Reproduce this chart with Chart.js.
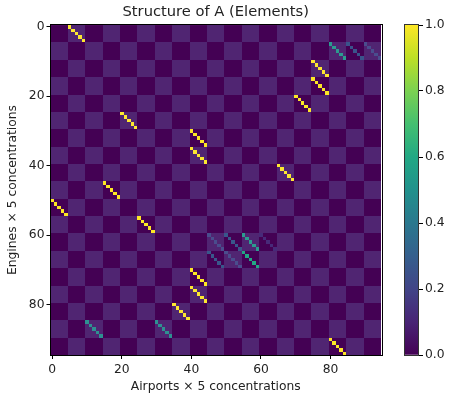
<!DOCTYPE html>
<html>
<head>
<meta charset="utf-8">
<script src="https://cdn.jsdelivr.net/npm/chart.js@4/dist/chart.umd.min.js"></script>
<style>
  html, body { margin: 0; padding: 0; background: #fff; }
  #wrap { position: relative; width: 449px; height: 393px; }
  #main { position: absolute; left: 0; top: 0; }
  #cbar { position: absolute; left: 404px; top: 0; }
</style>
</head>
<body>
<div id="wrap">
  <canvas id="main" width="449" height="393"></canvas>
  <canvas id="cbar" width="45" height="393"></canvas>
</div>
<script>
// matrix is 19 engines x 19 airports, each a 5x5 block of concentrations
const N = 95;
const BLOCK = 5;

// non-zero blocks: each one is a diagonal inside its 5x5 block
const engineBlock  = [0, 1, 1, 1, 2, 3, 4, 5, 6, 7, 8, 9, 10, 11, 12, 12, 12, 12, 13, 13, 13, 14, 15, 16, 17, 17, 18];
const airportBlock = [1, 16, 17, 18, 15, 15, 14, 4, 8, 8, 13, 3, 0, 5, 9, 10, 11, 12, 9, 10, 11, 8, 8, 7, 2, 6, 16];
const blockValue   = [1, 0.52, 0.26, 0.2, 1, 1, 1, 1, 1, 1, 1, 1, 1, 1, 0.2, 0.27, 0.52, 0.12, 0.27, 0.2, 0.6, 1, 1, 1, 0.48, 0.48, 1];
// background value of the lighter blocks in the checkerboard
const checkerValue = 0.07;

const axisTicks = [0, 20, 40, 60, 80];
const colorbarTicks = [0, 0.2, 0.4, 0.6, 0.8, 1.0];

// viridis sampled every 0.1
const VIRIDIS = ['#440154', '#482475', '#414487', '#355f8d', '#2a788e', '#21918c',
                 '#22a884', '#44bf70', '#7ad151', '#bddf26', '#fde725'];

function hexToRgb(h) {
  return [parseInt(h.slice(1, 3), 16), parseInt(h.slice(3, 5), 16), parseInt(h.slice(5, 7), 16)];
}

function viridis(v) {
  const t = Math.max(0, Math.min(1, v)) * (VIRIDIS.length - 1);
  const i = Math.min(Math.floor(t), VIRIDIS.length - 2);
  const f = t - i;
  const a = hexToRgb(VIRIDIS[i]), b = hexToRgb(VIRIDIS[i + 1]);
  const c = a.map((ai, k) => Math.round(ai + (b[k] - ai) * f));
  return `rgb(${c[0]},${c[1]},${c[2]})`;
}

const FONT = 'DejaVu Sans';

const heatmap = {
  id: 'heatmap',
  beforeDatasetsDraw(chart) {
    const { ctx, chartArea: area, scales: { x, y } } = chart;
    const px = v => Math.round(x.getPixelForValue(v));
    const py = v => Math.round(y.getPixelForValue(v));
    const nb = N / BLOCK;
    const blockRect = (i, j) => {
      const x0 = px(j * BLOCK - 0.5), x1 = px((j + 1) * BLOCK - 0.5);
      const y0 = py(i * BLOCK - 0.5), y1 = py((i + 1) * BLOCK - 0.5);
      return [x0, y0, x1 - x0, y1 - y0];
    };
    ctx.save();
    ctx.beginPath();
    ctx.rect(area.left, area.top, area.width, area.height);
    ctx.clip();

    ctx.fillStyle = viridis(0);
    ctx.fillRect(area.left, area.top, area.width, area.height);
    ctx.fillStyle = viridis(checkerValue);
    for (let i = 0; i < nb; i++) {
      for (let j = 0; j < nb; j++) {
        if ((i + j) % 2 === 1) ctx.fillRect(...blockRect(i, j));
      }
    }

    engineBlock.forEach((r, n) => {
      const c = airportBlock[n];
      ctx.fillStyle = viridis(blockValue[n]);
      for (let k = 0; k < BLOCK; k++) {
        const row = r * BLOCK + k, col = c * BLOCK + k;
        const x0 = px(col - 0.5), x1 = px(col + 0.5);
        const y0 = py(row - 0.5), y1 = py(row + 0.5);
        ctx.fillRect(x0, y0, x1 - x0, y1 - y0);
      }
    });

    // light wash over the odd blocks
    ctx.fillStyle = 'rgba(255,255,255,0.05)';
    for (let i = 0; i < nb; i++) {
      for (let j = 0; j < nb; j++) {
        if ((i + j) % 2 === 1) ctx.fillRect(...blockRect(i, j));
      }
    }
    ctx.restore();
  },
  afterDraw(chart) {
    const { ctx, chartArea: a } = chart;
    ctx.save();
    ctx.strokeStyle = '#000';
    ctx.lineWidth = 1;
    ctx.strokeRect(Math.round(a.left) - 0.5, Math.round(a.top) - 0.5,
                   Math.round(a.width) + 1, Math.round(a.height) + 1);
    ctx.restore();
  }
};

function axis(titleText, extra) {
  return Object.assign({
    type: 'linear',
    min: -0.5,
    max: N - 0.5,
    afterBuildTicks: s => { s.ticks = axisTicks.map(v => ({ value: v })); },
    grid: { display: true, drawOnChartArea: false, drawTicks: true, tickLength: 4, tickColor: '#000' },
    border: { display: false },
    ticks: { color: '#222', font: { family: FONT, size: 12.3 }, padding: 3, maxRotation: 0, autoSkip: false },
    title: { display: true, text: titleText, color: '#222', font: { family: FONT, size: 12.3 }, padding: 0 }
  }, extra);
}

new Chart(document.getElementById('main'), {
  type: 'scatter',
  data: { datasets: [] },
  options: {
    responsive: false,
    animation: false,
    events: [],
    layout: { padding: { left: 5, right: 68, top: 0, bottom: 0 } },
    plugins: {
      legend: { display: false },
      tooltip: { enabled: false },
      title: {
        display: true,
        fullSize: false,
        text: 'Structure of A (Elements)',
        color: '#222',
        font: { family: FONT, size: 14.7, weight: 'normal' },
        padding: { top: 3.5, bottom: 3.9 }
      }
    },
    scales: {
      x: axis('Airports \u00d7 5 concentrations', {
        position: 'bottom',
        afterFit: s => { s.height = 38; },
        title: { display: true, text: 'Airports \u00d7 5 concentrations', color: '#222',
                 font: { family: FONT, size: 12.3 }, padding: { top: 0, bottom: -1.5 } }
      }),
      y: axis('Engines \u00d7 5 concentrations', {
        reverse: true,
        afterFit: s => { s.width = 45.5; },
        ticks: { color: '#222', font: { family: FONT, size: 12.3 }, padding: 2, maxRotation: 0, autoSkip: false }
      })
    }
  },
  plugins: [heatmap]
});

// colorbar
new Chart(document.getElementById('cbar'), {
  type: 'bar',
  data: {
    labels: [''],
    datasets: [{
      data: [[0, 1]],
      barPercentage: 1,
      categoryPercentage: 1,
      borderWidth: 0,
      backgroundColor: ctx => {
        const a = ctx.chart.chartArea;
        if (!a) return VIRIDIS[0];
        const g = ctx.chart.ctx.createLinearGradient(0, a.bottom, 0, a.top);
        VIRIDIS.forEach((c, i) => g.addColorStop(i / (VIRIDIS.length - 1), c));
        return g;
      }
    }]
  },
  options: {
    responsive: false,
    animation: false,
    events: [],
    layout: { padding: { left: 0, right: 0, top: 25, bottom: 38 } },
    plugins: { legend: { display: false }, tooltip: { enabled: false } },
    scales: {
      x: { display: false },
      y: {
        position: 'right',
        min: 0,
        max: 1,
        afterBuildTicks: s => { s.ticks = colorbarTicks.map(v => ({ value: v })); },
        afterFit: s => { s.width = 30; },
        grid: { display: true, drawOnChartArea: false, drawTicks: true, tickLength: 4, tickColor: '#000' },
        border: { display: false },
        ticks: { color: '#222', font: { family: FONT, size: 12.3 }, padding: 2, callback: v => v.toFixed(1) }
      }
    }
  },
  plugins: [{
    id: 'frame',
    afterDraw(chart) {
      const { ctx, chartArea: a } = chart;
      ctx.save();
      ctx.strokeStyle = '#333';
      ctx.lineWidth = 1;
      ctx.strokeRect(Math.round(a.left) + 0.5, Math.round(a.top) - 0.5,
                     Math.round(a.width) - 1, Math.round(a.height) + 1);
      ctx.restore();
    }
  }]
});
</script>
</body>
</html>
